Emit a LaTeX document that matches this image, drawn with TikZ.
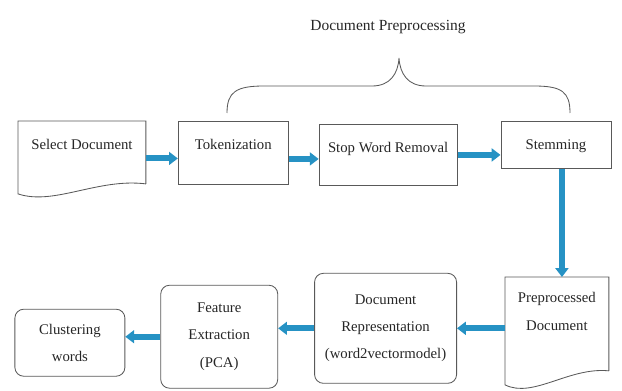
\documentclass[tikz,border=0pt]{standalone}
\usepackage{fontspec}
\setmainfont{Liberation Serif}
\usepackage{tikz}
\usetikzlibrary{positioning, arrows.meta}
\definecolor{arrowblue}{RGB}{38,146,196}

\begin{document}
\begin{tikzpicture}[
    node distance=0.8cm,
    box/.style={rectangle, draw=black!65, line width=0.6pt, align=center, text=black!85, font=\fontsize{10.5}{19.5}\selectfont},
    topbox/.style={box, text height=8pt, inner ysep=0.42cm},
    docbox/.style={box, draw=none},
    roundbox/.style={box, rounded corners=0.22cm},
    outline/.style={draw=black!65, line width=0.6pt},
    arrow/.style={-{Triangle[length=2.2mm, width=3.2mm]}, line width=1.5mm, draw=arrowblue}
]
\useasboundingbox (0,0) rectangle (15.55,9.75);

% Top row
\node[topbox, docbox, anchor=north west, minimum width=3.175cm, text depth=0.43cm] (select) at (0.45,6.725) {Select Document};
\node[topbox, right=0.8cm of select.north east, anchor=north west, minimum width=2.75cm, text depth=0.455cm] (tok) {Tokenization};
\node[topbox, right=0.75cm of tok.north east, anchor=north west, yshift=-0.075cm, minimum width=3.45cm, text depth=0.405cm] (stop) {Stop Word Removal};
\node[topbox, right=1.075cm of stop.north east, anchor=north west, yshift=0.075cm, minimum width=2.75cm, text depth=0.055cm] (stem) {Stemming};

% Bottom row
\node[box, docbox, anchor=north west, minimum width=2.575cm, text height=0.97cm, inner ysep=0.35cm, text depth=0.655cm] (pre) at (12.625,2.825) {Preprocessed\\Document};
\node[roundbox, left=1.2cm of pre, yshift=-0.11cm, minimum width=3.55cm, minimum height=2.75cm] (rep) {Document\\Representation\\(word2vectormodel)};
\node[roundbox, left=0.9cm of rep, yshift=-0.21cm, minimum width=2.925cm, minimum height=2.575cm] (feat) {Feature\\Extraction\\(PCA)};
\node[roundbox, left=0.875cm of feat, yshift=-0.15cm, minimum width=2.75cm, minimum height=1.675cm] (clus) {Clustering\\words};

% Document outlines
\draw[outline] (select.south east) -- (select.north east) -- (select.north west) -- ([yshift=-0.25cm]select.south west)
    .. controls +(0.9,-0.3) and +(-1.2,0.15) .. (select.south east);
\draw[outline] (pre.south east) -- (pre.north east) -- (pre.north west) -- ([yshift=-0.35cm]pre.south west)
    .. controls +(0.7,-0.35) and +(-1.0,0.1) .. (pre.south east);

% Arrows
\draw[arrow] ([yshift=-0.15cm]select.east) -- ([yshift=-0.15cm]select.east -| tok.west);
\draw[arrow] ([yshift=-0.15cm]tok.east) -- ([yshift=-0.15cm]tok.east -| stop.west);
\draw[arrow] (stop.east) -- (stop.east -| stem.west);
\draw[arrow] ([xshift=0.15cm]stem.south) -- ([xshift=0.15cm]stem.south |- pre.north);
\draw[arrow] (pre.west |- rep.east) -- (rep.east);
\draw[arrow] (rep.west) -- (rep.west -| feat.east);
\draw[arrow] (feat.west) -- (feat.west -| clus.east);

% Brace over the preprocessing steps
\draw[outline] (5.675,6.925) .. controls (5.675,7.45) and (5.9,7.6) .. (6.6,7.6) -- (9.3,7.6)
    .. controls (9.75,7.6) and (9.95,7.9) .. (9.975,8.3)
    .. controls (10.0,7.9) and (10.2,7.6) .. (10.65,7.6) -- (13.35,7.6)
    .. controls (14.05,7.6) and (14.25,7.45) .. (14.25,6.925);
\node[text=black!85, font=\fontsize{11}{13}\selectfont] (phase) at (9.7,9.075) {Document Preprocessing};

\end{tikzpicture}
\end{document}
